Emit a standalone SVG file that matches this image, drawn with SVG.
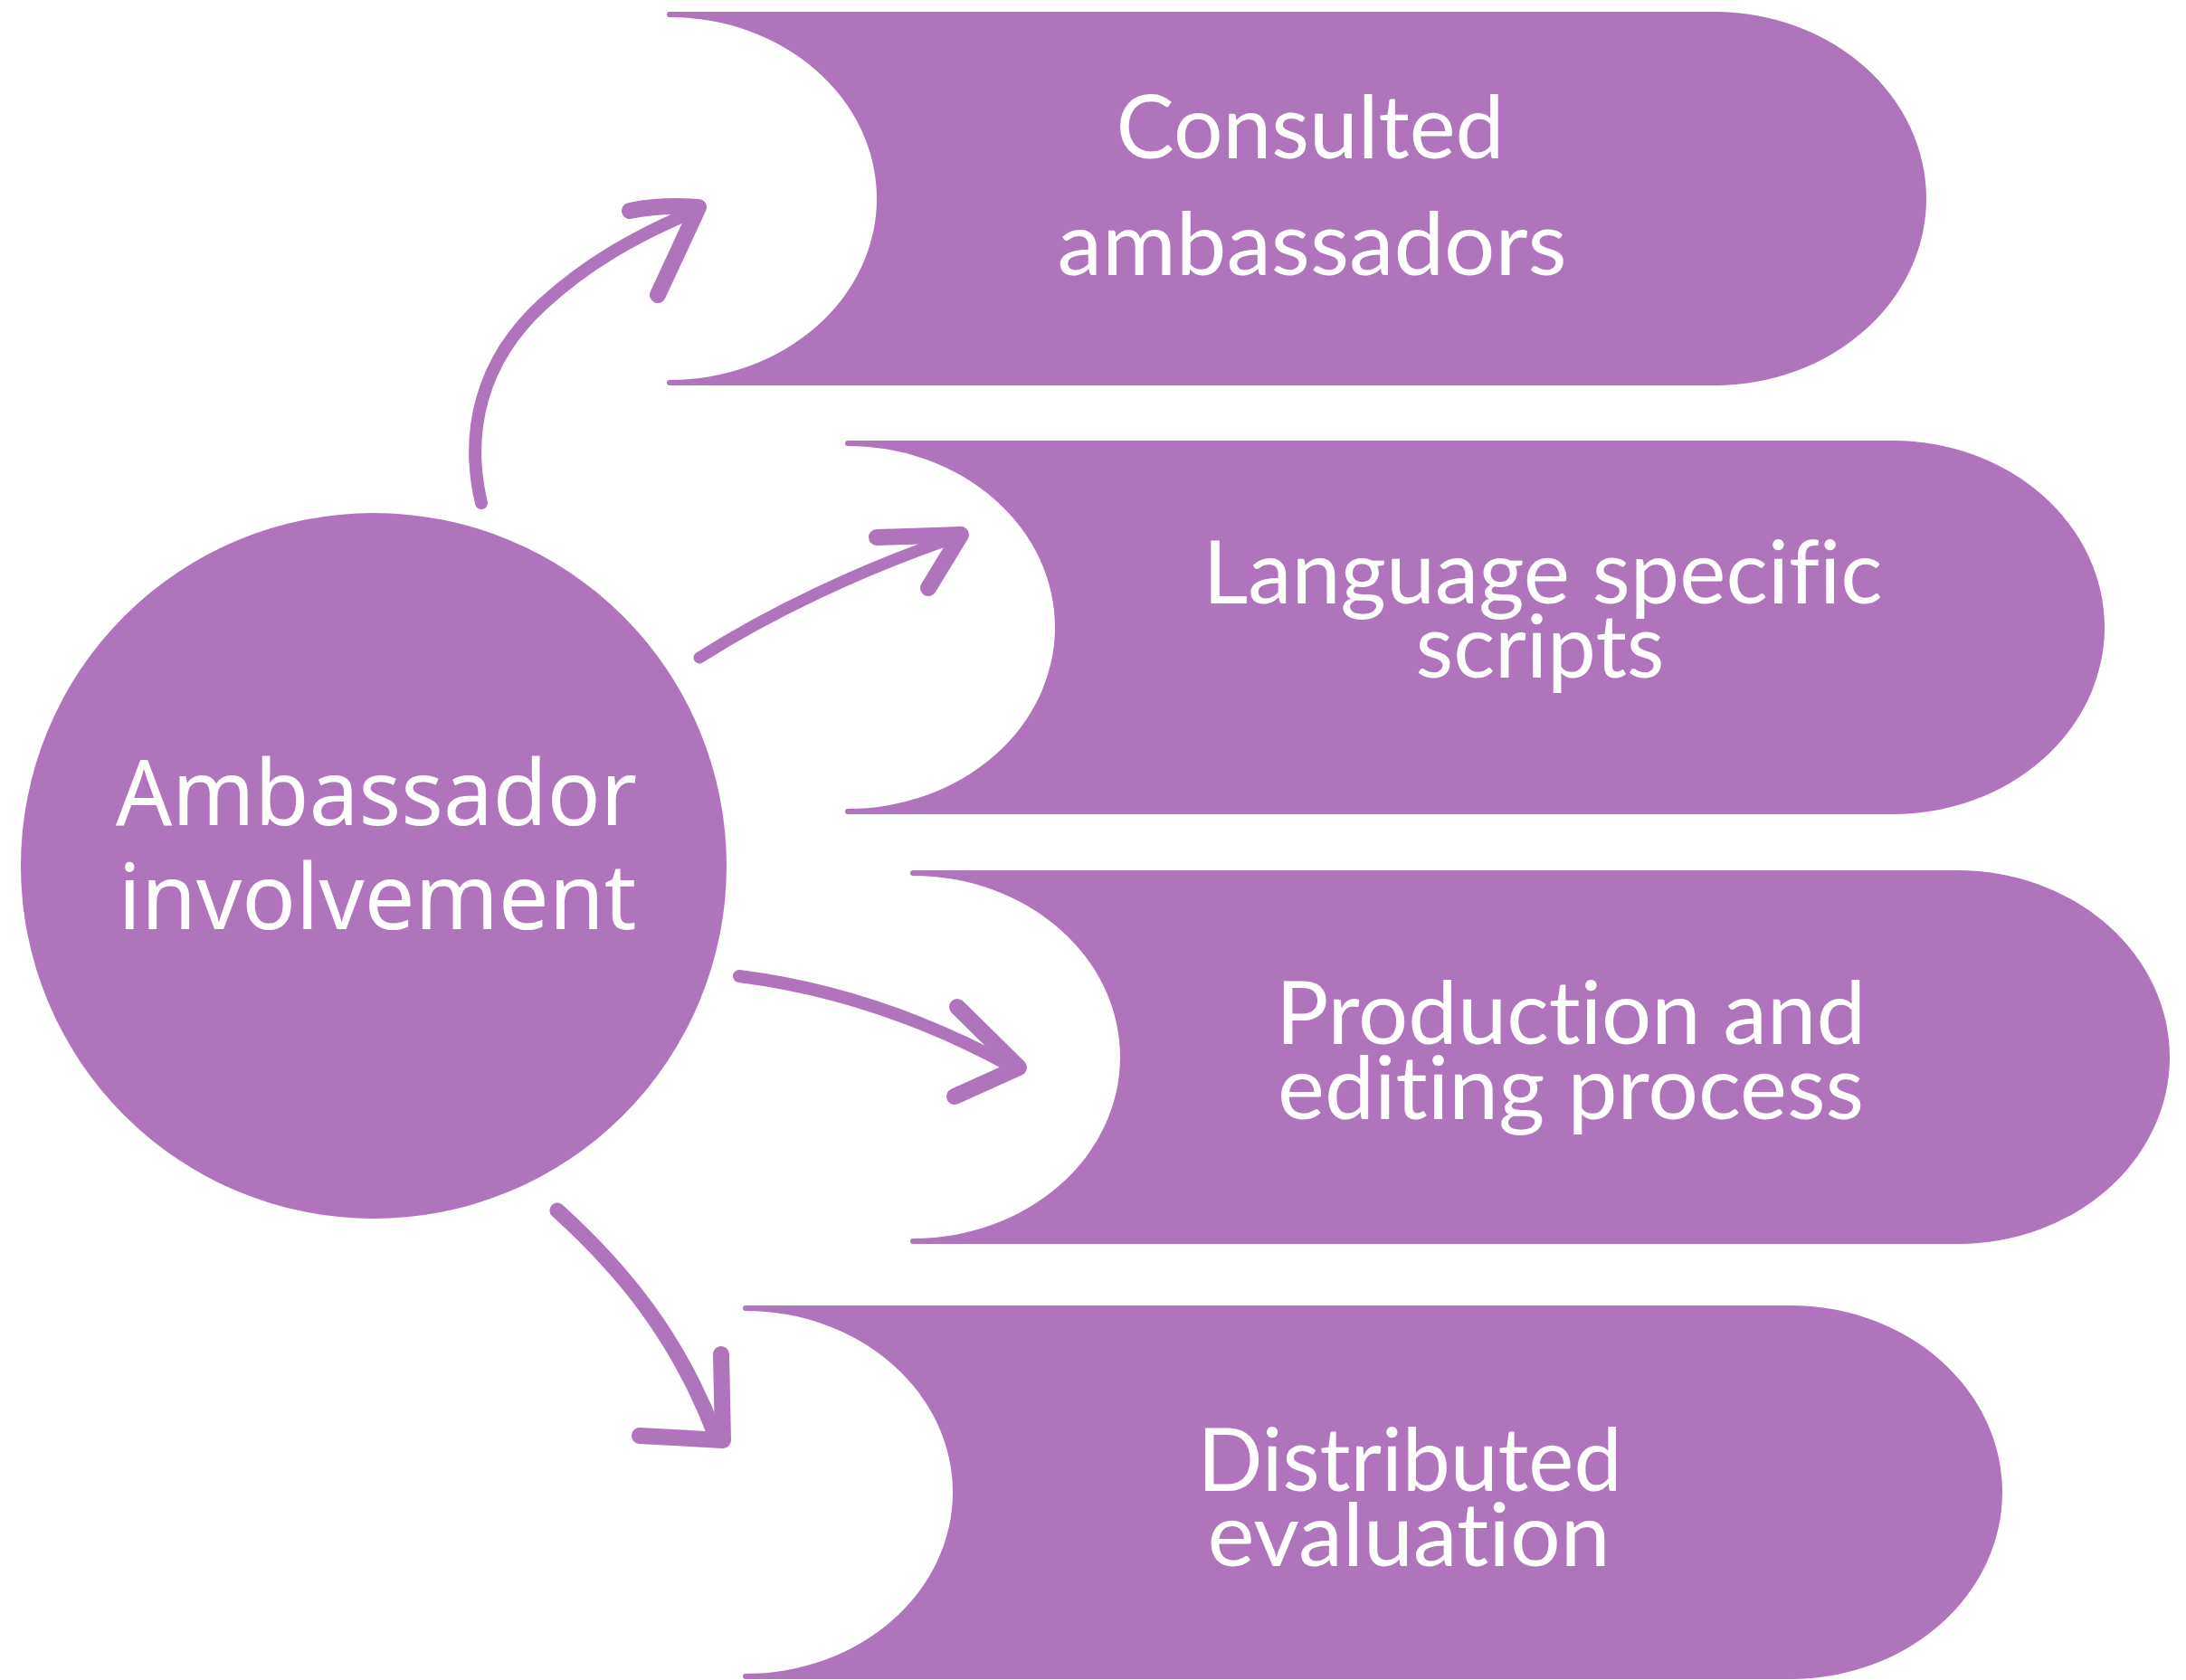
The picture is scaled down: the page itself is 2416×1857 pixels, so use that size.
<svg xmlns="http://www.w3.org/2000/svg" width="2416" height="1857" viewBox="0 0 2416 1857">
  <defs>
    <style>
      .fill { fill: #B074BC; }
      .lbl { fill: #FFFFFF; font-family: "Lato", "Open Sans", "Liberation Sans", sans-serif; font-size: 96px; text-anchor: middle; font-variant-ligatures: none; font-feature-settings: "liga" 0, "dlig" 0, "clig" 0; }
      .clbl { fill: #FFFFFF; font-family: "Noto Sans", "Open Sans", "Liberation Sans", sans-serif; font-size: 100px; text-anchor: middle; font-variant-ligatures: none; }
      .shaft { fill: none; stroke: #B074BC; stroke-linecap: round; stroke-linejoin: round; }
      .head { fill: none; stroke: #B074BC; stroke-width: 18; stroke-linecap: round; stroke-linejoin: round; }
    </style>
    <path id="block" d="M 0 0 H 1155 A 234 206.5 0 0 1 1155 413 H 0 A 3 3 0 0 1 0 407 A 229 200.5 0 0 0 0 6 A 3 3 0 0 1 0 0 Z"/>
  </defs>
  <rect width="2416" height="1857" fill="#FFFFFF"/>

  <g id="node-consulted">
    <use href="#block" class="fill" x="740" y="13"/>
    <text class="lbl" x="1448" y="175" textLength="429" lengthAdjust="spacingAndGlyphs">Consulted</text>
    <text class="lbl" x="1450" y="304" textLength="563" lengthAdjust="spacingAndGlyphs">ambassadors</text>
  </g>

  <g id="node-language">
    <use href="#block" class="fill" x="937" y="487"/>
    <text class="lbl" x="1705" y="667" textLength="751" lengthAdjust="spacingAndGlyphs">Language specific</text>
    <text class="lbl" x="1702" y="749" textLength="275" lengthAdjust="spacingAndGlyphs">scripts</text>
  </g>

  <g id="node-production">
    <use href="#block" class="fill" x="1009" y="962"/>
    <text class="lbl" x="1736" y="1154" textLength="652" lengthAdjust="spacingAndGlyphs">Production and</text>
    <text class="lbl" x="1736" y="1237" textLength="648" lengthAdjust="spacingAndGlyphs">editing process</text>
  </g>

  <g id="node-distributed">
    <use href="#block" class="fill" x="824" y="1443"/>
    <text class="lbl" x="1558" y="1648" textLength="469" lengthAdjust="spacingAndGlyphs">Distributed</text>
    <text class="lbl" x="1557" y="1731" textLength="445" lengthAdjust="spacingAndGlyphs">evaluation</text>
  </g>

  <g id="node-ambassador">
    <circle class="fill" cx="413" cy="957" r="390"/>
    <text class="clbl" x="416" y="912" textLength="576" lengthAdjust="spacingAndGlyphs">Ambassador</text>
    <text class="clbl" x="417" y="1027" textLength="573" lengthAdjust="spacingAndGlyphs">involvement</text>
  </g>

  <g id="connectors">
    <path class="shaft" stroke-width="14" d="M 532 556 C 514 480, 530 400, 600 336 C 648 292, 700 262, 766 234"/>
    <path class="head" d="M 696 233 Q 730 226 772 229 L 727 326"/>

    <path class="shaft" stroke-width="13" d="M 773 727 C 850 678, 950 630, 1055 594"/>
    <path class="head" d="M 969 594 L 1062 591 L 1026 650"/>

    <path class="shaft" stroke-width="14" d="M 817 1079 C 920 1092, 1020 1125, 1120 1180"/>
    <path class="head" d="M 1058 1113 L 1126 1180 L 1055 1212"/>

    <path class="shaft" stroke-width="17" d="M 616 1338 C 690 1405, 750 1480, 790 1585"/>
    <path class="head" d="M 797 1497 L 799 1592 L 707 1587"/>
  </g>
</svg>
